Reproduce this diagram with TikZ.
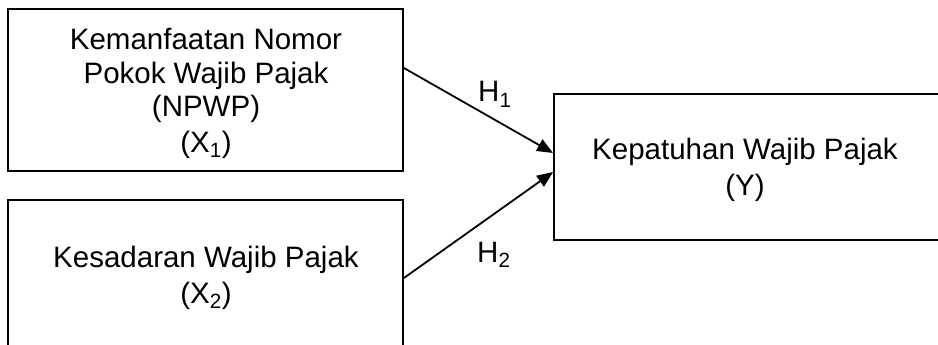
\documentclass[tikz,border=0pt]{standalone}
\usepackage{fontspec}
\setmainfont{Liberation Sans}
\usetikzlibrary{arrows.meta}
\begin{document}
\begin{tikzpicture}[x=1pt,y=-1pt,
  box/.style={draw,line width=1.8pt,inner sep=0pt},
  txt/.style={anchor=base,font=\fontsize{29.5}{34}\selectfont,inner sep=0pt},
  arr/.style={line width=1.8pt,-{Triangle[length=16pt,width=13pt]}}]
\useasboundingbox (0,0) rectangle (938,345);
\clip (0,0) rectangle (938,345);
% boxes
\node[box,minimum width=395pt,minimum height=162pt] (b1) at (205.5,90) {};
\node[box,minimum width=395pt,minimum height=180pt] (b2) at (205.5,290) {};
\node[box,minimum width=406pt,minimum height=146pt] (y) at (757,167) {};
% texts
\node[txt] (t11) at (206,50) {Kemanfaatan Nomor};
\node[txt] (t12) at (206,84) {Pokok Wajib Pajak};
\node[txt] (t13) at (206,117) {(NPWP)};
\node[txt] (t14) at (206,152) {(X\textsubscript{1})};
\node[txt] (t21) at (206,267) {Kesadaran Wajib Pajak};
\node[txt] (t22) at (206,303) {(X\textsubscript{2})};
\node[txt] (ty1) at (745,159) {Kepatuhan Wajib Pajak};
\node[txt] (ty2) at (745,195) {(Y)};
% labels
\node[txt,anchor=base west] (h1) at (478,102) {H\textsubscript{1}};
\node[txt,anchor=base west] (h2) at (477,262) {H\textsubscript{2}};
% arrows
\draw[arr] ([yshift=22pt]b1.east) -- ([yshift=14pt]y.west);
\draw[arr] ([yshift=12pt]b2.east) -- ([yshift=-5pt]y.west);
\end{tikzpicture}
\end{document}
